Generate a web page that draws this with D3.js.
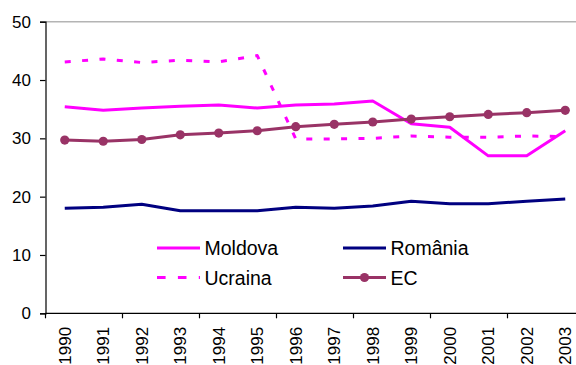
<!DOCTYPE html>
<html>
<head>
<meta charset="utf-8">
<script src="https://cdn.jsdelivr.net/npm/d3@7/dist/d3.min.js"></script>
<style>
  html, body { margin: 0; padding: 0; background: #fff; }
  svg { display: block; font-family: "Liberation Sans", Arial, sans-serif; }
</style>
</head>
<body>
<svg id="chart" width="576" height="365"></svg>
<script>
// Years on the horizontal axis
const years = ["1990","1991","1992","1993","1994","1995","1996","1997","1998","1999","2000","2001","2002","2003"];

// Series values per year
const moldova = [35.4, 34.8, 35.2, 35.5, 35.7, 35.2, 35.7, 35.9, 36.4, 32.5, 31.9, 27.0, 27.0, 31.3];
const romania = [18.0, 18.2, 18.7, 17.6, 17.6, 17.6, 18.2, 18.0, 18.4, 19.2, 18.8, 18.8, 19.2, 19.6];
const ucraina = [43.1, 43.6, 43.0, 43.4, 43.1, 44.2, 29.9, 29.9, 30.0, 30.4, 30.2, 30.2, 30.4, 30.3];
const ec      = [29.7, 29.5, 29.8, 30.6, 30.9, 31.3, 32.0, 32.4, 32.8, 33.3, 33.7, 34.1, 34.4, 34.8];

// Y axis tick values
const yTicks = [0, 10, 20, 30, 40, 50];

const series = [
  { name: "Moldova", values: moldova, color: "#FF00FF", dash: null, marker: false },
  { name: "Ucraina", values: ucraina, color: "#FF00FF", dash: "6,11.4", marker: false },
  { name: "România", values: romania, color: "#000080", dash: null, marker: false },
  { name: "EC",      values: ec,      color: "#993366", dash: null, marker: true }
];

// Legend arrangement: two columns, two rows
const legendItems = [
  { s: series[0], col: 0, row: 0 },
  { s: series[2], col: 1, row: 0 },
  { s: series[1], col: 0, row: 1 },
  { s: series[3], col: 1, row: 1 }
];

const svg = d3.select("#chart");
const plotLeft = 45.5, plotRight = 584.5, plotTop = 21.7, plotBottom = 313.3;

const x = d3.scalePoint().domain(years).range([plotLeft, plotRight]).padding(0.5);
const y = d3.scaleLinear().domain([0, 50]).range([plotBottom, plotTop]);
const step = x.step();

// Plot area top border
svg.append("line")
  .attr("x1", plotLeft).attr("x2", plotRight)
  .attr("y1", plotTop).attr("y2", plotTop)
  .attr("stroke", "#b4b4b4").attr("stroke-width", 1.5);

// Y axis
const yAxis = svg.append("g")
  .attr("transform", `translate(${plotLeft},0)`)
  .call(d3.axisLeft(y).tickValues(yTicks).tickSize(5.5).tickPadding(9).tickFormat(d3.format("d")));
yAxis.select(".domain").attr("stroke", "#000").attr("stroke-width", 1.2);
yAxis.selectAll(".tick line").attr("stroke", "#000").attr("stroke-width", 1.2);
yAxis.selectAll("text").attr("font-size", 17).attr("fill", "#000")
  .attr("font-family", "'Liberation Sans', Arial, sans-serif");

// X axis line with tick marks between every second year
svg.append("line")
  .attr("x1", plotLeft).attr("x2", plotRight)
  .attr("y1", plotBottom).attr("y2", plotBottom)
  .attr("stroke", "#000").attr("stroke-width", 1.2);

const boundaries = d3.range(0, years.length + 1, 2).map(k => plotLeft + k * step);
svg.append("g").selectAll("line").data(boundaries).join("line")
  .attr("x1", d => d).attr("x2", d => d)
  .attr("y1", plotBottom).attr("y2", plotBottom + 5)
  .attr("stroke", "#000").attr("stroke-width", 1.2);

// Rotated year labels
svg.append("g").selectAll("text").data(years).join("text")
  .attr("transform", d => `translate(${x(d)},${plotBottom + 13.5}) rotate(-90)`)
  .attr("text-anchor", "end")
  .attr("dy", "0.35em")
  .attr("font-size", 17)
  .attr("fill", "#000")
  .text(d => d);

// Series lines
const line = d3.line().x((d, i) => x(years[i])).y(d => y(d));

series.forEach(s => {
  svg.append("path")
    .datum(s.values)
    .attr("fill", "none")
    .attr("stroke", s.color)
    .attr("stroke-width", 3)
    .attr("stroke-linejoin", "round")
    .attr("stroke-dasharray", s.dash)
    .attr("d", line);
  if (s.marker) {
    svg.append("g").selectAll("circle").data(s.values).join("circle")
      .attr("cx", (d, i) => x(years[i]))
      .attr("cy", d => y(d))
      .attr("r", 4.6)
      .attr("fill", s.color);
  }
});

// Legend
const legend = svg.append("g");
const colX = [157, 343], rowY = [248, 277.5];
legendItems.forEach(item => {
  const gx = colX[item.col], gy = rowY[item.row];
  const g = legend.append("g").attr("transform", `translate(${gx},${gy})`);
  g.append("line")
    .attr("x1", 0).attr("x2", 43).attr("y1", 0).attr("y2", 0)
    .attr("stroke", item.s.color).attr("stroke-width", 3)
    .attr("stroke-dasharray", item.s.dash ? "8.6,12.3" : null);
  if (item.s.marker) {
    g.append("circle").attr("cx", 21.5).attr("cy", 0).attr("r", 4.6).attr("fill", item.s.color);
  }
  g.append("text")
    .attr("x", 47.5).attr("y", 0).attr("dy", "0.36em")
    .attr("font-size", 19.5).attr("fill", "#000")
    .text(item.s.name);
});
</script>
</body>
</html>
